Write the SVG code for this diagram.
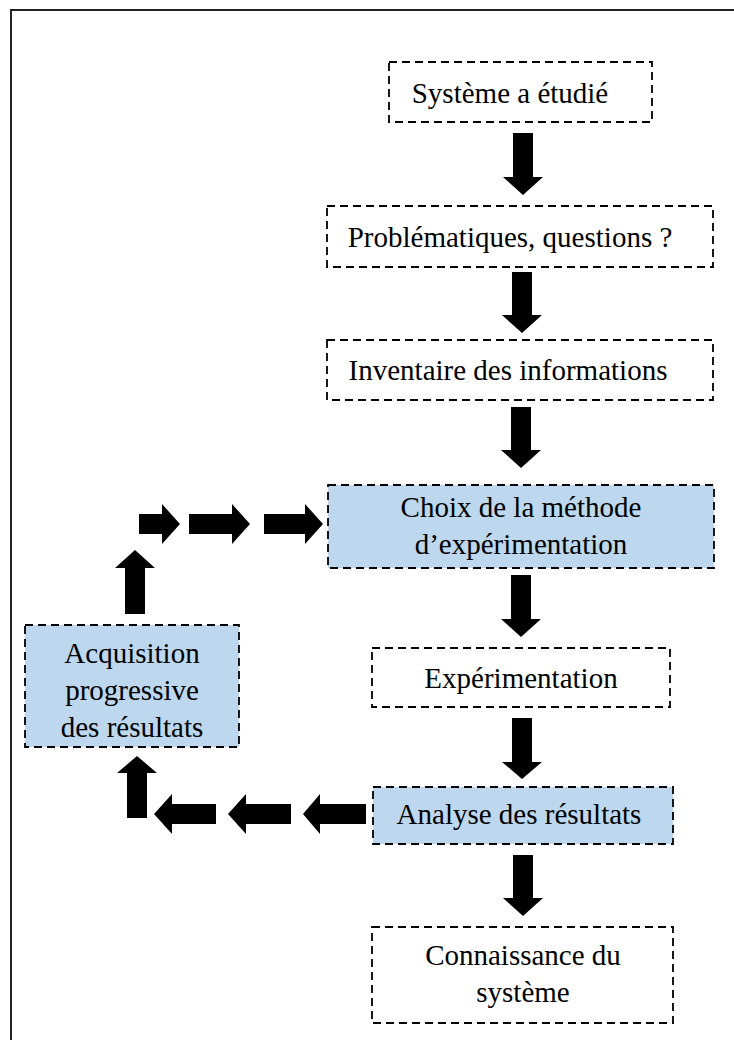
<svg xmlns="http://www.w3.org/2000/svg" width="734" height="1041" viewBox="0 0 734 1041">
<style>
.box{fill:#fff;stroke:#000;stroke-width:1.8;stroke-dasharray:8 5}
.blue{fill:#BDD7EE}
.t{font-family:"Liberation Serif","Times New Roman",serif;font-size:29px;fill:#000;text-anchor:middle}
.arr{fill:#000}
</style>
<rect width="734" height="1041" fill="#fff"/>
<g id="frame"><path d="M11 1040 V10 H734" fill="none" stroke="#222" stroke-width="2"/></g>
<g id="n1"><rect class="box" x="389" y="62" width="263" height="60"/><text class="t" x="510" y="103">Système a étudié</text></g>
<g id="n2"><rect class="box" x="327" y="206" width="386" height="61"/><text class="t" x="510" y="247">Problématiques, questions ?</text></g>
<g id="n3"><rect class="box" x="327" y="340" width="386" height="60"/><text class="t" x="508" y="380">Inventaire des informations</text></g>
<g id="n4"><rect class="box blue" x="328" y="485" width="386" height="83"/><text class="t" x="521" y="517">Choix de la méthode</text><text class="t" x="521" y="554">d’expérimentation</text></g>
<g id="n5"><rect class="box" x="372" y="648" width="298" height="59"/><text class="t" x="521" y="688">Expérimentation</text></g>
<g id="n6"><rect class="box blue" x="373" y="787" width="300" height="57"/><text class="t" x="519" y="824">Analyse des résultats</text></g>
<g id="n7"><rect class="box" x="372" y="927" width="301" height="96"/><text class="t" x="523" y="965">Connaissance du</text><text class="t" x="523" y="1002">système</text></g>
<g id="n8"><rect class="box blue" x="25" y="625" width="214" height="122"/><text class="t" x="132" y="663">Acquisition</text><text class="t" x="132" y="700">progressive</text><text class="t" x="132" y="737">des résultats</text></g>
<g id="connectors" class="arr">
<polygon points="513,133 533,133 533,177 543,177 523,195 503,177 513,177"/>
<polygon points="512,272 532,272 532,315 542,315 522,333 502,315 512,315"/>
<polygon points="511,407 531,407 531,450 541,450 521,468 501,450 511,450"/>
<polygon points="511,575 531,575 531,619 541,619 521,637 501,619 511,619"/>
<polygon points="512,718 532,718 532,762 542,762 522,779 502,762 512,762"/>
<polygon points="513,855 533,855 533,898 543,898 523,916 503,898 513,898"/>
<polygon points="366,804 320,804 320,794 303,814 320,834 320,824 366,824"/>
<polygon points="291,804 246,804 246,794 228,814 246,834 246,824 291,824"/>
<polygon points="216,804 172,804 172,794 154,814 172,834 172,824 216,824"/>
<polygon points="127,818 127,773 117,773 137,756 157,773 147,773 147,818"/>
<polygon points="125,614 125,568 115,568 135,550 155,568 145,568 145,614"/>
<polygon points="139,514 162,514 162,504 180,524 162,544 162,534 139,534"/>
<polygon points="189,514 232,514 232,504 250,524 232,544 232,534 189,534"/>
<polygon points="264,514 305,514 305,504 323,524 305,544 305,534 264,534"/>
</g>
</svg>
